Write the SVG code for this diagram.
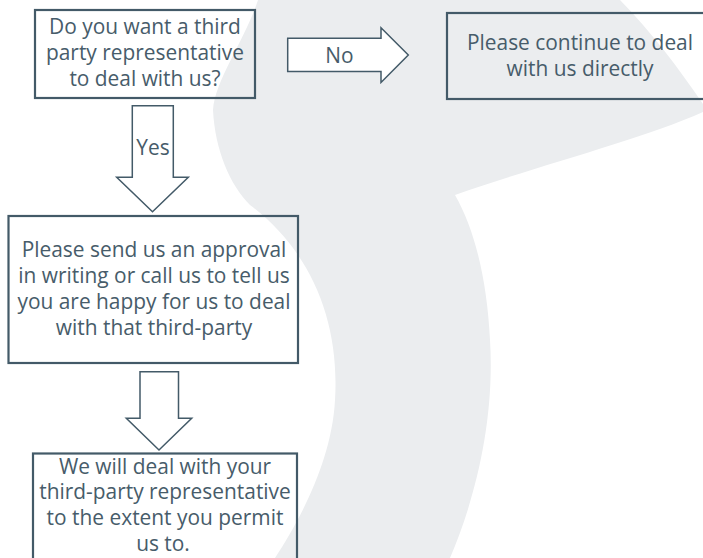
<svg xmlns="http://www.w3.org/2000/svg" width="703" height="558" viewBox="0 0 703 558">
<style>
.box{fill:none;stroke:#435a68;stroke-width:2.2}
.arr{fill:#ffffff;stroke:#435a68;stroke-width:1.5;stroke-linejoin:miter}
.t{font-family:"Open Sans","Liberation Sans",sans-serif;font-size:20.9px;fill:#475c6a;text-anchor:middle}
</style>
<rect width="703" height="558" fill="#ffffff"/>
<path id="watermark" fill="#ebedef" d="M 258,0 C 245,40 215,80 213,110 C 215,150 230,185 250,205 C 310,250 340,320 335,400 C 332,460 300,520 275,558 L 450,558 C 475,500 495,420 490,340 C 487,280 475,230 455,195 C 540,165 640,140 703,112 L 703,104 C 680,70 650,30 620,0 Z"/>
<g id="connectors">
<g id="arrow-no">
<polygon class="arr" points="287.7,38.3 381,38.3 381,27.7 408.3,55 381,82.5 381,71.5 287.7,71.5"/>
<text class="t" x="339.5" y="62.5">No</text>
</g>
<g id="arrow-yes">
<polygon class="arr" points="132.3,105.7 173.3,105.7 173.3,177.3 188.3,177.3 152.5,211.7 116.7,177.3 132.3,177.3"/>
<text class="t" x="153" y="155">Yes</text>
</g>
<g id="arrow-down">
<polygon class="arr" points="140,371.7 178.5,371.7 178.5,418.3 191.7,418.3 159,450 126.3,418.3 140,418.3"/>
</g>
</g>
<g id="node-question">
<rect class="box" x="35" y="10" width="220" height="88"/>
<text class="t" x="145" y="34">Do you want a third</text>
<text class="t" x="145" y="60">party representative</text>
<text class="t" x="145" y="86">to deal with us?</text>
</g>
<g id="node-direct">
<rect class="box" x="447" y="13" width="275" height="86"/>
<text class="t" x="580" y="50">Please continue to deal</text>
<text class="t" x="580" y="76">with us directly</text>
</g>
<g id="node-approval">
<rect class="box" x="8.5" y="216" width="289.5" height="147"/>
<text class="t" x="154" y="257">Please send us an approval</text>
<text class="t" x="154" y="283">in writing or call us to tell us</text>
<text class="t" x="154" y="309">you are happy for us to deal</text>
<text class="t" x="154" y="335">with that third-party</text>
</g>
<g id="node-deal">
<rect class="box" x="33" y="453.5" width="264" height="120"/>
<text class="t" x="165" y="473.5">We will deal with your</text>
<text class="t" x="165" y="499">third-party representative</text>
<text class="t" x="165" y="525">to the extent you permit</text>
<text class="t" x="163" y="551">us to.</text>
</g>
</svg>
